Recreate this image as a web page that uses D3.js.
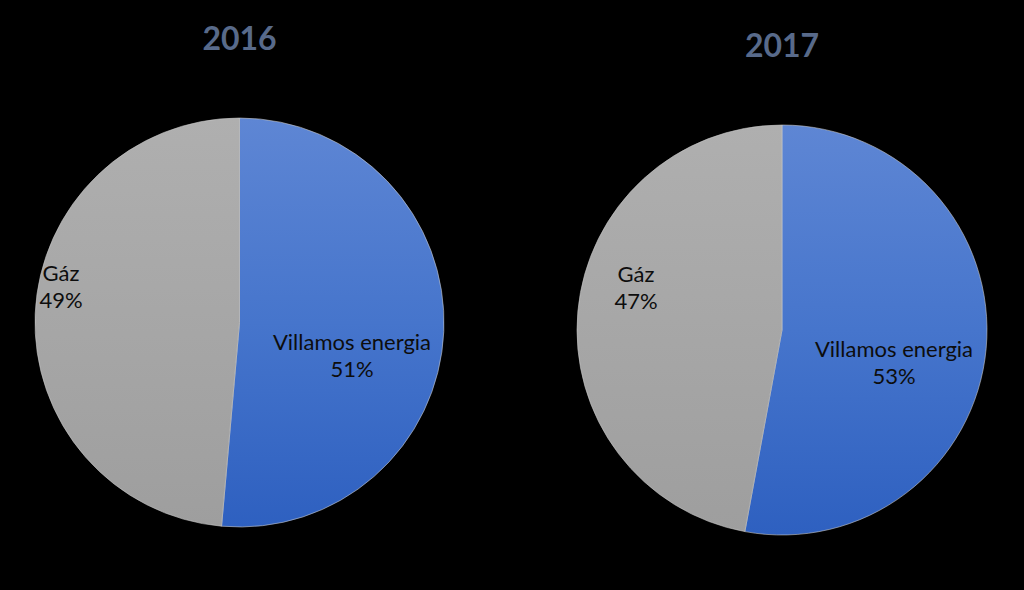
<!DOCTYPE html>
<html>
<head>
<meta charset="utf-8">
<script src="https://cdn.jsdelivr.net/npm/d3@7"></script>
<style>
  html, body { margin: 0; padding: 0; background: #000; }
  svg { display: block; }
</style>
</head>
<body>
<svg id="chart" width="1024" height="590"></svg>
<script>
const categories = ["Villamos energia", "Gáz"];
const years = ["2016", "2017"];
const values2016 = [51.4, 48.6];
const values2017 = [52.9, 47.1];
const pctLabels2016 = ["51%", "49%"];
const pctLabels2017 = ["53%", "47%"];

const svg = d3.select("#chart");
const W = 1024, H = 590;
svg.append("rect").attr("width", W).attr("height", H).attr("fill", "#000");

const defs = svg.append("defs");

const pies = [
  { year: years[0], values: values2016, pct: pctLabels2016, cx: 239.5, cy: 322.5, r: 204.5, titleY: 50,
    labelPos: [[352, 350], [61, 281]] },
  { year: years[1], values: values2017, pct: pctLabels2017, cx: 782, cy: 330, r: 205, titleY: 57,
    labelPos: [[894, 357], [636, 282]] }
];

const colorStops = [
  [["0%", "#5e86d4"], ["50%", "#4675cc"], ["100%", "#2e60c0"]],
  [["0%", "#afafaf"], ["100%", "#9e9e9e"]]
];

pies.forEach((p, pi) => {
  colorStops.forEach((stops, ci) => {
    const g = defs.append("linearGradient")
      .attr("id", `grad${pi}_${ci}`)
      .attr("gradientUnits", "userSpaceOnUse")
      .attr("x1", 0).attr("y1", -p.r)
      .attr("x2", 0).attr("y2", p.r);
    stops.forEach(s => g.append("stop").attr("offset", s[0]).attr("stop-color", s[1]));
  });

  const pie = d3.pie().sort(null).value(d => d)(p.values);
  const arc = d3.arc().innerRadius(0).outerRadius(p.r);
  const g = svg.append("g").attr("transform", `translate(${p.cx},${p.cy})`);
  g.selectAll("path").data(pie).join("path")
    .attr("d", arc)
    .attr("fill", (d, i) => `url(#grad${pi}_${i})`)
    .attr("stroke", "#c8c8c8")
    .attr("stroke-width", 0.6);

  svg.append("text")
    .attr("x", p.cx).attr("y", p.titleY)
    .attr("text-anchor", "middle")
    .attr("font-family", "Lato, 'Open Sans', sans-serif")
    .attr("font-weight", "bold")
    .attr("font-size", 32)
    .attr("fill", "#586a8a")
    .text(p.year);

  categories.forEach((c, i) => {
    const [lx, ly] = p.labelPos[i];
    const t = svg.append("text")
      .attr("text-anchor", "middle")
      .attr("font-family", "Lato, 'Open Sans', sans-serif")
      .attr("font-size", 22)
      .attr("fill", "#0d0d0d");
    t.append("tspan").attr("x", lx).attr("y", ly).text(c);
    t.append("tspan").attr("x", lx).attr("y", ly + 27).text(p.pct[i]);
  });
});
</script>
</body>
</html>
